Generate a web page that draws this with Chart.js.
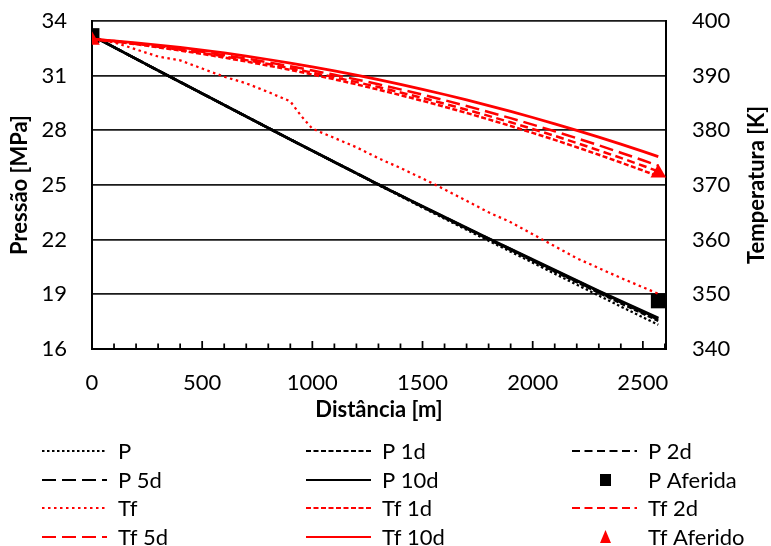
<!DOCTYPE html>
<html>
<head>
<meta charset="utf-8">
<script src="https://cdn.jsdelivr.net/npm/chart.js@4/dist/chart.umd.min.js"></script>
<style>
  html, body { margin: 0; padding: 0; background: #fff; }
</style>
</head>
<body>
<canvas id="myChart" width="771" height="546"></canvas>
<script>
// distance points [m]
const dist = [0, 100, 200, 300, 400, 500, 600, 700, 800, 900, 1000, 1100, 1200, 1300,
    1400, 1500, 1600, 1700, 1800, 1900, 2000, 2100, 2200, 2300, 2400, 2500, 2570];
const distTf = [0, 100, 200, 300, 400, 500, 600, 700, 800, 900, 950, 1000, 1100, 1200, 1300,
    1400, 1500, 1600, 1700, 1800, 1900, 2000, 2100, 2200, 2300, 2400, 2500, 2570];
const distMeasured = [0, 2570];

// pressure [MPa]
const p = [33.20, 32.56, 31.92, 31.28, 30.65, 30.02, 29.39, 28.76, 28.13, 27.50, 26.88, 26.25, 25.63, 25.00,
    24.38, 23.76, 23.15, 22.54, 21.94, 21.34, 20.74, 20.13, 19.53, 18.93, 18.33, 17.74, 17.33];
const p1d = [33.20, 32.56, 31.92, 31.28, 30.65, 30.02, 29.39, 28.76, 28.13, 27.50, 26.88, 26.26, 25.64, 25.02,
    24.41, 23.80, 23.20, 22.61, 22.02, 21.43, 20.84, 20.25, 19.67, 19.09, 18.51, 17.94, 17.55];
const p2d = [33.20, 32.56, 31.92, 31.28, 30.65, 30.02, 29.39, 28.76, 28.13, 27.50, 26.88, 26.26, 25.65, 25.02,
    24.42, 23.81, 23.22, 22.62, 22.04, 21.45, 20.87, 20.28, 19.70, 19.12, 18.56, 18.00, 17.61];
const p5d = [33.20, 32.56, 31.92, 31.28, 30.65, 30.02, 29.39, 28.76, 28.13, 27.50, 26.88, 26.26, 25.65, 25.03,
    24.43, 23.82, 23.23, 22.64, 22.06, 21.48, 20.89, 20.31, 19.74, 19.16, 18.60, 18.05, 17.66];
const p10d = [33.20, 32.56, 31.92, 31.28, 30.65, 30.02, 29.39, 28.76, 28.13, 27.50, 26.88, 26.26, 25.65, 25.03,
    24.43, 23.83, 23.24, 22.65, 22.07, 21.49, 20.91, 20.33, 19.76, 19.19, 18.63, 18.08, 17.70];
const pMeasured = [33.2, 18.64];

// fluid temperature [K]
const tf = [396.7, 396.1, 394.8, 393.5, 392.8, 391.3, 389.8, 388.6, 387.0, 385.3, 382.6, 380.3, 378.6, 376.9,
    374.9, 373.1, 371.2, 369.2, 367.1, 365.0, 363.2, 361.0, 358.8, 356.6, 354.8, 353.0, 351.3, 350.1];
const tf1d = [396.70, 396.24, 395.74, 395.19, 394.60, 393.98, 393.31, 392.59, 391.84, 391.05, 390.21, 389.33, 388.41, 387.45,
    386.44, 385.40, 384.31, 383.18, 382.01, 380.80, 379.54, 378.25, 376.91, 375.53, 374.11, 372.65, 371.60];
const tf2d = [396.70, 396.28, 395.81, 395.30, 394.74, 394.16, 393.52, 392.84, 392.12, 391.37, 390.56, 389.72, 388.83, 387.91,
    386.93, 385.93, 384.87, 383.78, 382.64, 381.47, 380.24, 378.99, 377.68, 376.34, 374.95, 373.53, 372.50];
const tf5d = [396.70, 396.32, 395.89, 395.42, 394.90, 394.36, 393.76, 393.12, 392.44, 391.73, 390.96, 390.16, 389.31, 388.43,
    387.49, 386.53, 385.51, 384.46, 383.36, 382.23, 381.04, 379.83, 378.56, 377.26, 375.91, 374.53, 373.53];
const tf10d = [396.70, 396.38, 396.02, 395.61, 395.16, 394.68, 394.15, 393.57, 392.96, 392.31, 391.61, 390.87, 390.09, 389.27,
    388.40, 387.50, 386.55, 385.56, 384.53, 383.46, 382.34, 381.19, 379.99, 378.75, 377.47, 376.15, 375.20];
const tfMeasured = [396.5, 372.2];

// tick labels
const xTicks = [0, 500, 1000, 1500, 2000, 2500];
const pTicks = [16, 19, 22, 25, 28, 31, 34];
const tTicks = [340, 350, 360, 370, 380, 390, 400];

const toXY = (xs, ys) => xs.map((x, i) => ({x: x, y: ys[i]}));

const RED = '#ff0000';
const BLACK = '#000000';
const NONE = 'rgba(0,0,0,0)';

function lineSet(label, xs, ys, color, dash, axis, width) {
    return {
        label: label,
        data: toXY(xs, ys),
        borderColor: color,
        backgroundColor: color,
        borderWidth: width || 2.5,
        borderDash: dash,
        borderCapStyle: 'butt',
        pointRadius: 0,
        pointHoverRadius: 0,
        tension: 0,
        yAxisID: axis,
    };
}

const datasets = [
    lineSet('P', dist, p, BLACK, [2.5, 2.5], 'y', 2.25),
    lineSet('P 1d', dist, p1d, BLACK, [5, 2.5], 'y'),
    lineSet('P 2d', dist, p2d, BLACK, [8, 4.5], 'y'),
    lineSet('P 5d', dist, p5d, BLACK, [14, 6], 'y'),
    lineSet('P 10d', dist, p10d, BLACK, [], 'y', 2.75),
    {
        label: 'P Aferida', data: toXY(distMeasured, pMeasured), showLine: false,
        pointStyle: 'rect', pointRadius: 10.5, pointBorderWidth: 0,
        backgroundColor: BLACK, borderColor: BLACK, yAxisID: 'y',
    },
    lineSet('Tf', distTf, tf, RED, [2.5, 3.5], 'y2', 2.25),
    lineSet('Tf 1d', dist, tf1d, RED, [5, 2.5], 'y2'),
    lineSet('Tf 2d', dist, tf2d, RED, [8, 4.5], 'y2'),
    lineSet('Tf 5d', dist, tf5d, RED, [14, 6], 'y2'),
    lineSet('Tf 10d', dist, tf10d, RED, [], 'y2', 2.75),
    {
        label: 'Tf Aferido', data: toXY(distMeasured, tfMeasured), showLine: false,
        pointStyle: 'triangle', pointRadius: 9, pointBorderWidth: 0,
        backgroundColor: RED, borderColor: RED, yAxisID: 'y2',
    },
];
// later series on top, like the spreadsheet
datasets.forEach((d, i) => { d.order = -i; });

// small ticks pointing up from the x axis
const innerTicks = {
    id: 'innerTicks',
    beforeDatasetsDraw(chart) {
        const {ctx, chartArea} = chart;
        const xs = chart.scales.x;
        ctx.save();
        ctx.strokeStyle = BLACK;
        ctx.lineWidth = 1.75;
        for (let v = 0; v <= xs.max; v += 100) {
            const px = xs.getPixelForValue(v);
            const len = v % 500 === 0 ? 8 : 5.5;
            ctx.beginPath();
            ctx.moveTo(px, chartArea.bottom);
            ctx.lineTo(px, chartArea.bottom - len);
            ctx.stroke();
        }
        ctx.restore();
    }
};

// right title reads bottom-up, like the left one
const rightTitle = {
    id: 'rightTitle',
    afterDraw(chart) {
        const {ctx, chartArea} = chart;
        ctx.save();
        ctx.translate(757, (chartArea.top + chartArea.bottom) / 2);
        ctx.rotate(-Math.PI / 2);
        ctx.font = 'bold 22px Lato';
        ctx.fillStyle = BLACK;
        ctx.textAlign = 'center';
        ctx.textBaseline = 'middle';
        ctx.fillText('Temperatura [K]', 0, 0);
        ctx.restore();
    }
};

// legend in a 3 column grid under the chart
const gridLegend = {
    id: 'gridLegend',
    afterDraw(chart) {
        const ctx = chart.ctx;
        const cols = [42, 306, 572];
        const rows = [451, 480, 508, 537];
        ctx.save();
        ctx.font = '22px Lato';
        ctx.textBaseline = 'middle';
        chart.data.datasets.forEach((ds, i) => {
            const x0 = cols[i % 3];
            const y = rows[Math.floor(i / 3)];
            ctx.fillStyle = ds.backgroundColor;
            ctx.strokeStyle = ds.borderColor;
            if (ds.pointStyle === 'rect') {
                ctx.fillRect(x0 + 28, y - 6, 11, 12);
            } else if (ds.pointStyle === 'triangle') {
                ctx.beginPath();
                ctx.moveTo(x0 + 33.5, y - 7);
                ctx.lineTo(x0 + 39, y + 6);
                ctx.lineTo(x0 + 28, y + 6);
                ctx.closePath();
                ctx.fill();
            } else {
                ctx.lineWidth = 2;
                ctx.setLineDash(ds.borderDash);
                ctx.beginPath();
                ctx.moveTo(x0, y);
                ctx.lineTo(x0 + 65, y);
                ctx.stroke();
                ctx.setLineDash([]);
            }
            ctx.fillStyle = BLACK;
            ctx.fillText(ds.label, x0 + 76, y + 1);
        });
        ctx.restore();
    }
};

Chart.defaults.font.family = 'Lato';
Chart.defaults.font.size = 22;
Chart.defaults.color = BLACK;

const config = {
    type: 'line',
    data: { datasets: datasets },
    options: {
        responsive: false,
        animation: false,
        layout: { padding: { top: 21, bottom: 121, left: 0, right: 0 } },
        plugins: {
            legend: { display: false },
            tooltip: { enabled: false },
        },
        scales: {
            x: {
                type: 'linear',
                min: 0,
                max: 2605,
                afterBuildTicks: s => { s.ticks = xTicks.map(v => ({value: v})); },
                afterFit: s => { s.height = 76; },
                grid: { display: false, drawTicks: false },
                border: { display: true, color: BLACK, width: 2 },
                ticks: { padding: 21, maxRotation: 0, callback: v => String(v) },
                title: {
                    display: true, text: 'Distância [m]',
                    font: { weight: 'bold', size: 22 }, padding: { top: 0, bottom: 2 },
                },
            },
            y: {
                position: 'left',
                min: 16,
                max: 34,
                afterBuildTicks: s => { s.ticks = pTicks.map(v => ({value: v})); },
                afterFit: s => { s.width = 92; },
                grid: { color: '#1a1a1a', lineWidth: 1.75, drawTicks: true, tickLength: 25, tickColor: NONE },
                border: { display: true, color: BLACK, width: 2 },
                ticks: { padding: 0, callback: v => String(v) },
                title: {
                    display: true, text: 'Pressão [MPa]',
                    font: { weight: 'bold', size: 22 }, padding: { top: 7, bottom: 0 },
                },
            },
            y2: {
                position: 'right',
                min: 340,
                max: 400,
                afterBuildTicks: s => { s.ticks = tTicks.map(v => ({value: v})); },
                afterFit: s => { s.width = 105; },
                grid: { display: false, drawTicks: true, tickLength: 26, tickColor: NONE },
                border: { display: true, color: BLACK, width: 2 },
                ticks: { padding: 0, callback: v => String(v) },
                title: { display: false },
            },
        },
    },
    plugins: [innerTicks, rightTitle, gridLegend],
};

const myChart = new Chart(document.getElementById('myChart'), config);
</script>
</body>
</html>
